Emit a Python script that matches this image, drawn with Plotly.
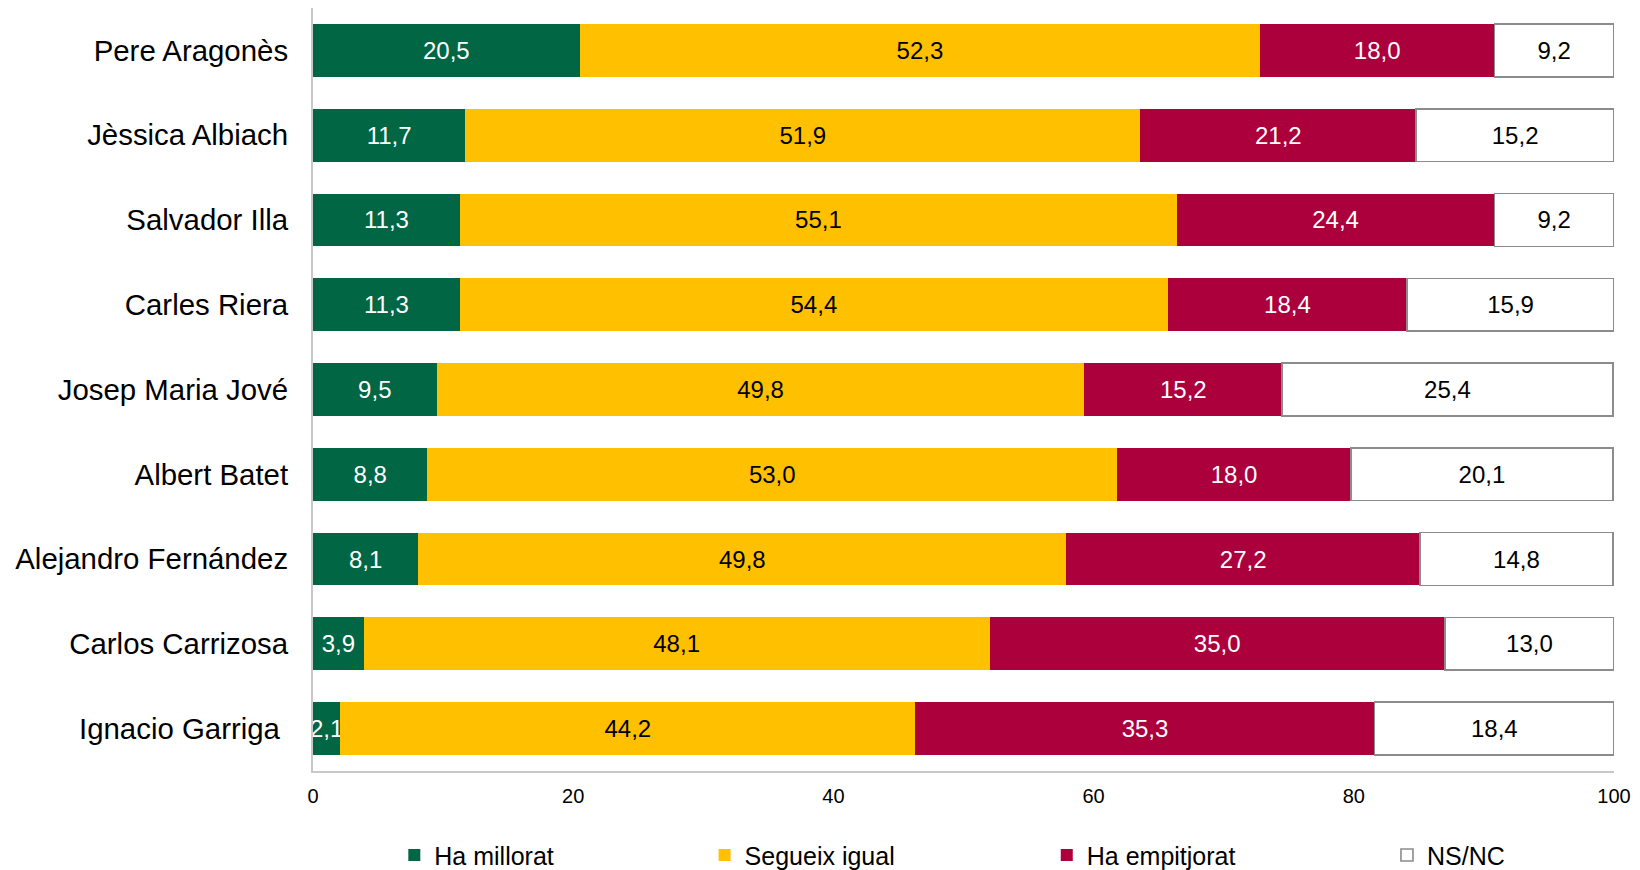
import plotly.graph_objects as go

categories = ["Pere Aragonès", "Jèssica Albiach", "Salvador Illa", "Carles Riera",
              "Josep Maria Jové", "Albert Batet", "Alejandro Fernández",
              "Carlos Carrizosa", "Ignacio Garriga\u00a0"]
ha_millorat = [20.5, 11.7, 11.3, 11.3, 9.5, 8.8, 8.1, 3.9, 2.1]
segueix_igual = [52.3, 51.9, 55.1, 54.4, 49.8, 53.0, 49.8, 48.1, 44.2]
ha_empitjorat = [18.0, 21.2, 24.4, 18.4, 15.2, 18.0, 27.2, 35.0, 35.3]
ns_nc = [9.2, 15.2, 9.2, 15.9, 25.4, 20.1, 14.8, 13.0, 18.4]
x_ticks = [0, 20, 40, 60, 80, 100]

FONT = "Liberation Sans, Arial, sans-serif"

series = [
    ("Ha millorat", ha_millorat, "#006643", "white", "legend", 0, "#006643"),
    ("Segueix igual", segueix_igual, "#FFC000", "black", "legend2", 0, "#FFC000"),
    ("Ha empitjorat", ha_empitjorat, "#AC003D", "white", "legend3", 0, "#AC003D"),
    ("NS/NC", ns_nc, "#FFFFFF", "black", "legend4", 1.6, "#8C8C8C"),
]

fig = go.Figure()
for name, vals, col, tcol, leg, lw, lcol in series:
    fig.add_trace(go.Bar(
        y=categories, x=vals, name=name, orientation="h",
        marker=dict(color=col, line=dict(width=lw, color=lcol)),
        texttemplate="%{x:.1f}", textposition="inside",
        insidetextanchor="middle", textangle=0, constraintext="none",
        textfont=dict(color=tcol, size=24, family=FONT),
        legend=leg, showlegend=True, hoverinfo="skip",
    ))

leg_common = dict(orientation="h", yref="container", yanchor="middle", y=0.017,
                  xanchor="left", visible=True,
                  font=dict(size=25, family=FONT, color="black"),
                  bgcolor="rgba(0,0,0,0)", itemwidth=30, tracegroupgap=0)
legx = [0.0625, 0.301, 0.564, 0.8255]

fig.update_layout(
    showlegend=True,
    barmode="stack",
    bargap=0.377,
    width=1640, height=870,
    margin=dict(l=313, r=26, t=8, b=99),
    paper_bgcolor="white", plot_bgcolor="white",
    separators=", ",
    font=dict(family=FONT, color="black"),
    legend=dict(x=legx[0], **leg_common),
    legend2=dict(x=legx[1], **leg_common),
    legend3=dict(x=legx[2], **leg_common),
    legend4=dict(x=legx[3], **leg_common),
    xaxis=dict(range=[0, 100], tickvals=x_ticks, showgrid=False, zeroline=False,
               showline=True, linecolor="#C8C8C8", linewidth=2, ticks="",
               tickfont=dict(size=20, family=FONT, color="black"),
               ticklabelstandoff=6),
    yaxis=dict(autorange="reversed", showgrid=False, zeroline=False,
               showline=True, linecolor="#C8C8C8", linewidth=2, ticks="",
               tickfont=dict(size=29.4, family=FONT, color="black"),
               ticklabelstandoff=17),
)

fig.write_html("out.html", config={"displayModeBar": False},
               post_script="document.body.style.margin='0';document.body.style.overflow='hidden';")
